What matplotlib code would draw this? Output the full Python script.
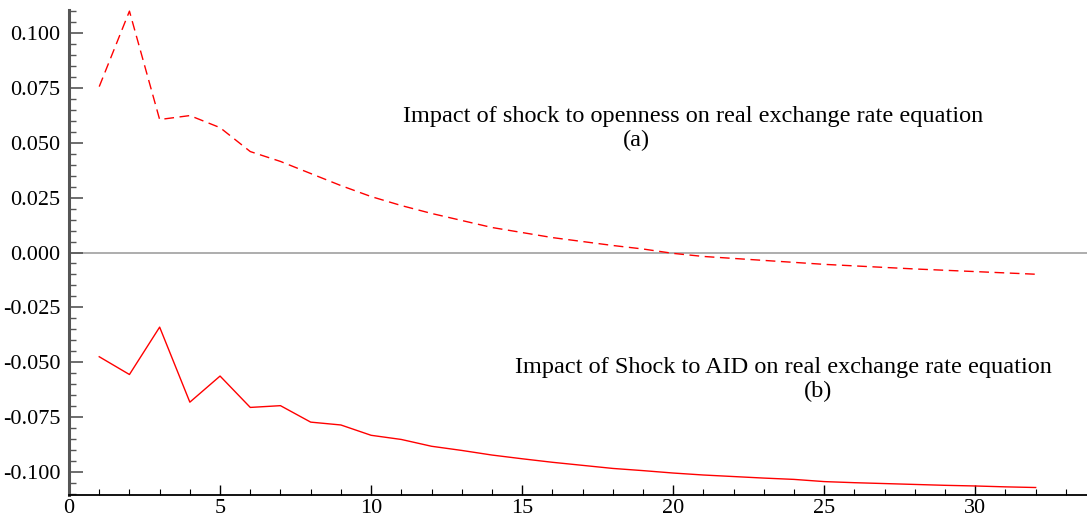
import matplotlib.pyplot as plt
from matplotlib.ticker import MultipleLocator, FixedLocator

# периоды после шока
periods = list(range(1, 33))

# (a) шок открытости -> реальный обменный курс
openness = [0.0756, 0.1100, 0.0606, 0.0624, 0.0569, 0.0460, 0.0415, 0.0360,
            0.0305, 0.0255, 0.0214, 0.0178, 0.0146, 0.0114, 0.0091, 0.0068,
            0.0050, 0.0032, 0.0016, -0.0004, -0.0018, -0.0027, -0.0036, -0.0045,
            -0.0054, -0.0061, -0.0068, -0.0075, -0.0081, -0.0087, -0.0093, -0.0099]

# (b) шок помощи (AID) -> реальный обменный курс
aid = [-0.0475, -0.0556, -0.0340, -0.0682, -0.0563, -0.0706, -0.0698, -0.0773,
       -0.0786, -0.0833, -0.0852, -0.0883, -0.0902, -0.0923, -0.0940, -0.0956,
       -0.0970, -0.0984, -0.0994, -0.1005, -0.1014, -0.1021, -0.1028, -0.1034,
       -0.1044, -0.1049, -0.1053, -0.1057, -0.1061, -0.1064, -0.1068, -0.1071]

y_ticks = [0.100, 0.075, 0.050, 0.025, 0.000, -0.025, -0.050, -0.075, -0.100]
y_labels = ['0.100', '0.075', '0.050', '0.025', '0.000',
            '-0.025', '-0.050', '-0.075', '-0.100']

label_a = 'Impact of shock to openness on real exchange rate equation'
label_b = 'Impact of Shock to AID on real exchange rate equation'

plt.rcParams['font.family'] = ['Liberation Serif', 'DejaVu Serif']

fig = plt.figure(figsize=(10.87, 5.17), dpi=100)
ax = fig.add_axes([0.0635, 0.0426, 0.9365, 0.938])

ax.axhline(0, color='#a0a0a0', lw=1.2, zorder=1)
ax.plot(periods, openness, color='red', lw=1.0, ls=(0, (7, 4)))
ax.plot(periods, aid, color='red', lw=1.0)

ax.set_xlim(0, 33.7)
ax.set_ylim(-0.1105, 0.1105)

ax.xaxis.set_major_locator(MultipleLocator(5))
ax.xaxis.set_minor_locator(MultipleLocator(1))
ax.yaxis.set_major_locator(FixedLocator(y_ticks))
ax.yaxis.set_minor_locator(MultipleLocator(0.005))
ax.set_yticklabels(y_labels)

for side in ['top', 'right']:
    ax.spines[side].set_visible(False)
ax.spines['left'].set_color('#555555')
ax.spines['left'].set_linewidth(2.2)
ax.spines['bottom'].set_color('black')
ax.spines['bottom'].set_linewidth(1.3)

ax.tick_params(axis='y', which='major', direction='in', length=10, width=1.2,
               color='#555555', labelsize=16, pad=6)
ax.tick_params(axis='y', which='minor', direction='in', length=5, width=1.0,
               color='#555555')
ax.tick_params(axis='x', which='major', direction='in', length=7, width=1.0,
               labelsize=16, pad=3)
ax.tick_params(axis='x', which='minor', direction='in', length=4, width=0.8)

# подписи кривых
ax.text(20.66, 0.0618, label_a, fontsize=17.5, ha='center', va='center')
ax.text(18.8, 0.0510, '(a)', fontsize=17.5, ha='center', va='center')
ax.text(23.64, -0.0522, label_b, fontsize=17.5, ha='center', va='center')
ax.text(24.8, -0.0632, '(b)', fontsize=17.5, ha='center', va='center')

fig.savefig('out.png', dpi=100)
